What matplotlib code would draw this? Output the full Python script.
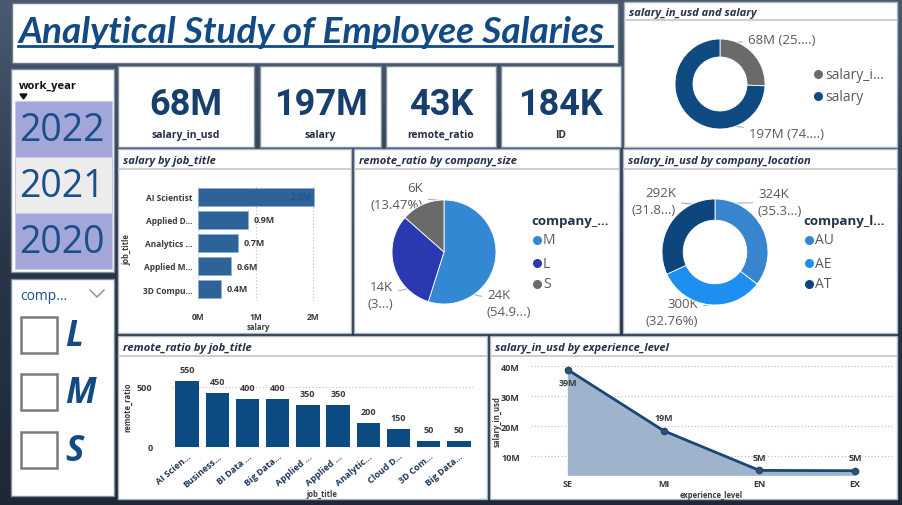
import matplotlib
matplotlib.use('Agg')
import matplotlib.pyplot as plt
from matplotlib.patches import Rectangle, Polygon
import numpy as np

# ---------------- data ----------------
kpi_values = ['68M', '197M', '43K', '184K']
kpi_labels = ['salary_in_usd', 'salary', 'remote_ratio', 'ID']

years = ['2022', '2021', '2020']
size_slicer = ['L', 'M', 'S']

usd_names = ['salary_i...', 'salary']
usd_values = [68, 197]                      # millions
usd_labels = ['68M (25....)', '197M (74....)']

job_top = ['AI Scientist', 'Applied D...', 'Analytics ...', 'Applied M...', '3D Compu...']
salary_job = [2.02, 0.86, 0.70, 0.57, 0.40]  # millions
salary_job_labels = ['2.0M', '0.9M', '0.7M', '0.6M', '0.4M']

size_cats = ['M', 'L', 'S']
size_remote = [23.6, 13.6, 5.8]             # thousands
size_labels = ['24K\n(54.9...)', '14K\n(3...)', '6K\n(13.47%)']

loc_cats = ['AU', 'AE', 'AT']
loc_salary = [324, 300, 292]                # thousands
loc_labels = ['324K\n(35.3...)', '300K\n(32.76%)', '292K\n(31.8...)']

job_all = ['AI Scien...', 'Business...', 'BI Data ...', 'Big Data...', 'Applied ...',
           'Applied ...', 'Analytic...', 'Cloud D...', '3D Com...', 'Big Data...']
remote_job = [550, 450, 400, 400, 350, 350, 200, 150, 50, 50]

exp_levels = ['SE', 'MI', 'EN', 'EX']
salary_exp = [38.8, 18.5, 5.3, 5.2]         # millions
salary_exp_labels = ['39M', '19M', '5M', '5M']

# ---------------- style ----------------
F = 'Open Sans'
plt.rcParams['font.family'] = [F, 'DejaVu Sans']
BLUE = '#124a84'
HDR = '#24304a'
TICK = '#3a3a3a'
GRAY = '#5a5a5a'

W, H = 903, 506
fig = plt.figure(figsize=(W / 100, H / 100), dpi=100, facecolor='#2b394c')

bg = fig.add_axes([0, 0, 1, 1])
bg.set_xlim(0, W); bg.set_ylim(H, 0); bg.axis('off')
grad = np.linspace(0, 1, 256).reshape(-1, 1) * np.ones((1, 256))
bg.imshow(grad, extent=[0, W, H, 0], cmap=matplotlib.colors.LinearSegmentedColormap.from_list(
    'bgc', ['#4a5a70', '#2a3648', '#1e2836']), aspect='auto', zorder=0)


def axpx(x0, y0, x1, y1):
    a = fig.add_axes([x0 / W, 1 - y1 / H, (x1 - x0) / W, (y1 - y0) / H])
    a.patch.set_alpha(0)
    return a


def panel(x0, y0, x1, y1, title=None, hdr=20):
    bg.add_patch(Rectangle((x0, y0), x1 - x0, y1 - y0, facecolor='white',
                           edgecolor='#aab6c4', lw=1, zorder=1))
    if title:
        bg.text(x0 + 5, y0 + hdr / 2 + 1, title, fontsize=8, fontweight='bold',
                style='italic', color=HDR, va='center', ha='left', zorder=3)
        bg.plot([x0 + 1, x1 - 1], [y0 + hdr, y0 + hdr], color='#c9c9c9', lw=1.3, zorder=3)


# ---------------- title ----------------
bg.add_patch(Rectangle((12, 4), 606, 60, facecolor='white', edgecolor='#6b7a8c', lw=1, zorder=1))
tt = bg.text(18, 43, 'Analytical Study of Employee Salaries', fontsize=24, fontweight='bold',
             style='italic', color=BLUE, ha='left', va='baseline', zorder=3,
             family=['Lato', 'DejaVu Sans'])
fig.canvas.draw()
bb = tt.get_window_extent()
tt.set_fontsize(24 * 587 / bb.width)
bg.plot([18, 612], [47, 47], color=BLUE, lw=2, zorder=3)

# ---------------- KPI cards ----------------
cards = [(118, 254), (260, 381), (386, 496), (501, 621)]
for (x0, x1), v, lab in zip(cards, kpi_values, kpi_labels):
    bg.add_patch(Rectangle((x0, 67), x1 - x0, 81, facecolor='white', edgecolor='#8090a4',
                           lw=1, zorder=1))
    cx = (x0 + x1) / 2
    bg.text(cx, 105, v, fontsize=26, fontweight='bold', color='#173f6b', ha='center',
            va='center', family=['Roboto', 'DejaVu Sans'], zorder=3)
    bg.text(cx, 135, lab, fontsize=7.5, fontweight='bold', color='#252f45', ha='center',
            va='center', zorder=3)

# ---------------- work_year slicer ----------------
bg.add_patch(Rectangle((11, 70), 103, 203, facecolor='white', edgecolor='#8090a4', lw=1, zorder=1))
bg.text(19, 86, 'work_year', fontsize=8, fontweight='bold', color='#111111', va='center', zorder=3)
bg.add_patch(Polygon([[20, 95], [27, 95], [23.5, 100]], closed=True, color='#111111', zorder=3))
ybands = [(102, 158), (158, 214), (214, 270)]
fills = ['#a3a6d8', '#ececec', '#a3a6d8']
for (y0, y1), yr, fc in zip(ybands, years, fills):
    bg.add_patch(Rectangle((15, y0), 97, y1 - y0, facecolor=fc, edgecolor='#c8cbe8', lw=0.8, zorder=2))
    bg.text(62, (y0 + y1) / 2 + 1, yr, fontsize=27, color='#1a4f8a', ha='center', va='center', zorder=3)

# ---------------- company size slicer ----------------
bg.add_patch(Rectangle((11, 280), 103, 217, facecolor='white', edgecolor='#8090a4', lw=1, zorder=1))
bg.text(20, 297, 'comp...', fontsize=10, color='#1a4f8a', va='center', zorder=3)
bg.plot([90, 97, 104], [291, 298, 291], color='#8a8a8a', lw=1, zorder=3)
for yb, s in zip([318, 375, 433], size_slicer):
    bg.add_patch(Rectangle((21, yb), 36, 36, facecolor='white', edgecolor='#7a7a7a', lw=1.8, zorder=3))
    bg.text(65, yb + 19, s, fontsize=25, fontweight='bold', style='italic', color=BLUE,
            ha='left', va='center', zorder=3)

# ---------------- panels ----------------
panel(624, 3, 897, 148, 'salary_in_usd and salary', hdr=18)
panel(118, 150, 351, 334, 'salary by job_title')
panel(354, 150, 619, 334, 'remote_ratio by company_size')
panel(623, 150, 897, 334, 'salary_in_usd by company_location')
panel(118, 337, 487, 500, 'remote_ratio by job_title')
panel(490, 337, 897, 500, 'salary_in_usd by experience_level')


# ---------------- donut / pie helper ----------------
def pie_px(cx, cy, R, values, colors, width=None):
    a = axpx(cx - 1.3 * R, cy - 1.3 * R, cx + 1.3 * R, cy + 1.3 * R)
    wp = dict(edgecolor='white', linewidth=0.6)
    if width:
        wp['width'] = width
    a.pie(values, colors=colors, startangle=90, counterclock=False, radius=1,
          wedgeprops=wp)
    a.set_xlim(-1.3, 1.3); a.set_ylim(-1.3, 1.3); a.set_aspect('auto'); a.axis('off')
    return a


def label_px(cx, cy, R, ang, txt, tx, ty, ha):
    ex = cx + R * np.cos(np.radians(ang))
    ey = cy - R * np.sin(np.radians(ang))
    bg.annotate(txt, xy=(ex, ey), xytext=(tx, ty), fontsize=9.5, color=GRAY, ha=ha, va='center',
                linespacing=1.35, zorder=5,
                arrowprops=dict(arrowstyle='-', color='#b0b0b0', lw=0.8, shrinkA=2, shrinkB=0))


# top donut
pie_px(720, 85, 45, usd_values, ['#6a6a6a', '#0f4a80'], width=0.4)
label_px(720, 85, 45, 68, usd_labels[0], 748, 40, 'left')
label_px(720, 85, 45, -70, usd_labels[1], 749, 134, 'left')
for yy, nm, c in zip([75, 97], usd_names, ['#6a6a6a', '#0f4a80']):
    bg.scatter([818], [yy], s=30, color=c, zorder=5)
    bg.text(825, yy, nm, fontsize=10, color=GRAY, va='center', zorder=5)

# company size pie
pie_px(444, 253, 52, size_remote, ['#3487d2', '#2a39b0', '#6a6a6a'])
label_px(444, 253, 52, -55, size_labels[0], 487, 304, 'left')
label_px(444, 253, 52, -135, size_labels[1], 393, 296, 'right')
label_px(444, 253, 52, 96, size_labels[2], 423, 197, 'right')
bg.text(531, 222, 'company_...', fontsize=9.5, fontweight='bold', color=HDR, va='center', zorder=5)
for yy, nm, c in zip([241, 264, 285], size_cats, ['#3487d2', '#2a39b0', '#6a6a6a']):
    bg.scatter([537], [yy], s=30, color=c, zorder=5)
    bg.text(543, yy, nm, fontsize=10, color=GRAY, va='center', zorder=5)

# company location donut
loc_colors = ['#3784cf', '#1d8ff0', '#0d467d']
pie_px(715, 253, 53, loc_salary, loc_colors, width=0.4)
label_px(715, 253, 53, 67, loc_labels[0], 758, 203, 'left')
label_px(715, 253, 53, -96, loc_labels[1], 698, 313, 'right')
label_px(715, 253, 53, 115, loc_labels[2], 676, 202, 'right')
bg.text(803, 222, 'company_l...', fontsize=9.5, fontweight='bold', color=HDR, va='center', zorder=5)
for yy, nm, c in zip([241, 264, 285], loc_cats, loc_colors):
    bg.scatter([809], [yy], s=30, color=c, zorder=5)
    bg.text(815, yy, nm, fontsize=10, color=GRAY, va='center', zorder=5)


def clean(a):
    for s in a.spines.values():
        s.set_visible(False)
    a.tick_params(length=0, colors=TICK, labelsize=6)
    for lab in a.get_xticklabels() + a.get_yticklabels():
        lab.set_fontweight('bold')


def place_labels(a, box, xl, yl):
    x0, y0, x1, y1 = box
    a.xaxis.set_label_coords((xl[0] - x0) / (x1 - x0), (y1 - xl[1]) / (y1 - y0))
    a.yaxis.set_label_coords((yl[0] - x0) / (x1 - x0), (y1 - yl[1]) / (y1 - y0))
    a.xaxis.label.set_va('center')
    a.yaxis.label.set_va('center')


# ---------------- salary by job_title ----------------
box1 = (198, 186.5, 319, 301.5)
a1 = axpx(*box1)
yp = np.arange(len(job_top))
a1.barh(yp, salary_job, height=0.74, color='#2e6399', edgecolor='#8fb0d0', lw=0.5, zorder=3)
a1.set_xlim(0, 2.1); a1.set_ylim(len(job_top) - 0.5, -0.5)
a1.set_xticks([0, 1, 2]); a1.set_xticklabels(['0M', '1M', '2M'])
a1.set_yticks(yp); a1.set_yticklabels(job_top)
a1.grid(axis='x', linestyle=(0, (1, 2)), color='#bdbdbd', lw=0.8, zorder=0)
clean(a1)
a1.tick_params(axis='x', pad=8)
a1.tick_params(axis='y', pad=4)
for i, (v, t) in enumerate(zip(salary_job, salary_job_labels)):
    if v > 1.5:
        a1.text(v - 0.05, i, t, ha='right', va='center', fontsize=6.5, color='#1d4f82', zorder=4)
    else:
        a1.text(v + 0.1, i, t, ha='left', va='center', fontsize=6.5, fontweight='bold',
                color=TICK, zorder=4)
a1.set_xlabel('salary', fontsize=5.5, fontweight='bold', color=TICK)
a1.set_ylabel('job_title', fontsize=5.5, fontweight='bold', color=TICK)
place_labels(a1, box1, (258, 327), (127, 250))

# ---------------- remote_ratio by job_title ----------------
box2 = (172, 366.4, 474, 448)
a2 = axpx(*box2)
xp = np.arange(len(job_all))
a2.bar(xp, remote_job, width=0.78, color='#0c4a82', zorder=3)
a2.set_xlim(-0.5, len(job_all) - 0.5); a2.set_ylim(0, 680)
a2.set_yticks([0, 500])
a2.set_xticks(xp)
a2.set_xticklabels(job_all, rotation=40, ha='right', rotation_mode='anchor')
a2.grid(axis='y', linestyle=(0, (1, 2)), color='#bdbdbd', lw=0.8, zorder=0)
clean(a2)
a2.tick_params(labelsize=6.5)
a2.tick_params(axis='y', pad=14)
a2.tick_params(axis='x', pad=3)
for lab in a2.get_xticklabels():
    lab.set_color('#1f3658')
for i, v in enumerate(remote_job):
    a2.annotate(str(v), (i, v), xytext=(0, 5), textcoords='offset points', ha='center',
                va='bottom', fontsize=6.5, fontweight='bold', color=TICK)
a2.set_ylabel('remote_ratio', fontsize=5.5, fontweight='bold', color=TICK)
a2.set_xlabel('job_title', fontsize=5.5, fontweight='bold', color=TICK)
place_labels(a2, box2, (322, 494), (128, 407))

# ---------------- salary_in_usd by experience_level ----------------
box3 = (531, 359.8, 893, 475.6)
a3 = axpx(*box3)
ep = np.arange(len(exp_levels))
ybot = 3.9
a3.fill_between(ep, salary_exp, ybot, color='#9fb4cc', zorder=2)
a3.plot(ep, salary_exp, color='#17477a', lw=2, marker='o', ms=4.5, mfc='#3c4f66',
        mec='#17477a', zorder=4)
a3.set_xlim(-0.387, 3.396); a3.set_ylim(ybot, 42.5)
a3.set_yticks([10, 20, 30, 40]); a3.set_yticklabels(['10M', '20M', '30M', '40M'])
a3.set_xticks(ep); a3.set_xticklabels(exp_levels)
a3.grid(axis='y', linestyle=(0, (1, 2)), color='#bdbdbd', lw=0.8, zorder=0)
clean(a3)
a3.tick_params(labelsize=6.5)
a3.tick_params(axis='y', pad=8)
a3.tick_params(axis='x', pad=3)
for i, (v, t) in enumerate(zip(salary_exp, salary_exp_labels)):
    off = -6 if i == 0 else 6
    a3.annotate(t, (i, v), xytext=(0, off), textcoords='offset points', ha='center',
                va='top' if off < 0 else 'bottom', fontsize=6.5, fontweight='bold',
                color=TICK, zorder=5)
a3.set_ylabel('salary_in_usd', fontsize=5.5, fontweight='bold', color=TICK)
a3.set_xlabel('experience_level', fontsize=5.5, fontweight='bold', color=TICK)
place_labels(a3, box3, (711, 495), (497, 422))

fig.savefig('out.png', dpi=100, facecolor=fig.get_facecolor())
